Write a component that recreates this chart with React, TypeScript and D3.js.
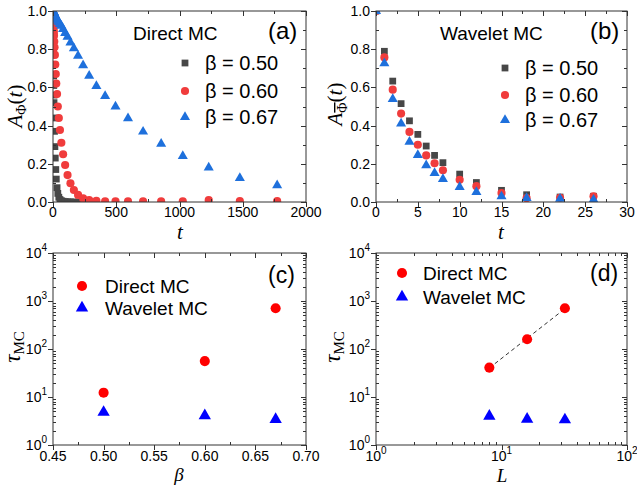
import React from 'react';
import * as d3 from 'd3';

// ---------- data ----------
// Panel (a): direct MC autocorrelation
const tDirect050 = [0, 1, 2, 3, 4, 5, 6, 7, 8, 10, 12, 15, 18, 22, 26, 32, 38, 46, 55, 66, 80, 96, 115, 138, 165, 198];
const aDirect050 = [1.0, 0.92, 0.85, 0.78, 0.72, 0.66, 0.61, 0.56, 0.52, 0.44, 0.37, 0.29, 0.23, 0.17, 0.12, 0.075, 0.045, 0.025, 0.013, 0.007, 0.004, 0.002, 0.001, 0.001, 0.0, 0.0];
const tDirect060 = [0, 1, 2, 3, 4, 5, 6, 7, 8, 10, 12, 15, 18, 22, 26, 32, 38, 46, 55, 66, 80, 96, 115, 138, 165, 198, 238, 286, 343, 412, 494, 593, 712, 855, 1026, 1231, 1477, 1772];
const aDirect060 = [1.0, 0.98, 0.965, 0.95, 0.935, 0.92, 0.9, 0.885, 0.87, 0.84, 0.81, 0.77, 0.72, 0.67, 0.62, 0.565, 0.5, 0.44, 0.377, 0.31, 0.25, 0.194, 0.141, 0.098, 0.063, 0.037, 0.019, 0.01, 0.006, 0.004, 0.004, 0.003, 0.004, 0.003, 0.004, 0.01, 0.005, 0.005];
const tDirect067 = [0, 1, 2, 3, 4, 5, 6, 7, 8, 10, 12, 15, 18, 22, 26, 32, 38, 46, 55, 66, 80, 96, 115, 138, 165, 198, 238, 286, 343, 412, 494, 593, 712, 855, 1026, 1231, 1477, 1772];
const aDirect067 = [1.0, 0.999, 0.997, 0.996, 0.994, 0.993, 0.991, 0.99, 0.989, 0.986, 0.983, 0.979, 0.975, 0.97, 0.964, 0.956, 0.948, 0.94, 0.932, 0.922, 0.905, 0.885, 0.865, 0.835, 0.805, 0.765, 0.715, 0.66, 0.607, 0.555, 0.499, 0.438, 0.368, 0.304, 0.241, 0.18, 0.125, 0.087];

// Panel (b): wavelet MC autocorrelation
const tWavelet = [0, 1, 2, 3, 4, 5, 6, 7, 8, 10, 12, 15, 18, 22, 26];
const aWavelet050 = [1.0, 0.789, 0.633, 0.515, 0.425, 0.354, 0.293, 0.244, 0.206, 0.146, 0.102, 0.061, 0.038, 0.026, 0.03];
const aWavelet060 = [1.0, 0.757, 0.588, 0.463, 0.367, 0.3, 0.244, 0.203, 0.166, 0.116, 0.083, 0.047, 0.02, 0.022, 0.03];
const aWavelet067 = [1.0, 0.726, 0.539, 0.411, 0.315, 0.246, 0.192, 0.151, 0.12, 0.078, 0.052, 0.029, 0.021, 0.016, 0.012];

// Panel (c): tau vs beta
const betaValues = [0.5, 0.6, 0.67];
const tauDirectBeta = [12.3, 56, 705];
const tauWaveletBeta = [4.8, 4.1, 3.4];

// Panel (d): tau vs L
const lValues = [8, 16, 32];
const tauDirectL = [41, 160, 705];
const tauWaveletL = [4.0, 3.45, 3.35];

// tick labels
const ticksA_x = [0, 500, 1000, 1500, 2000];
const ticksA_xMinor = [250, 750, 1250, 1750];
const ticksB_x = [0, 5, 10, 15, 20, 25, 30];
const ticksB_xMinor = [2.5, 7.5, 12.5, 17.5, 22.5, 27.5];
const ticksAB_y = [0, 0.2, 0.4, 0.6, 0.8, 1.0];
const ticksAB_yMinor = [0.1, 0.3, 0.5, 0.7, 0.9];
const ticksC_x = [0.45, 0.5, 0.55, 0.6, 0.65, 0.7];
const ticksC_xMinor = [0.475, 0.525, 0.575, 0.625, 0.675];
const logDecadesY = [0, 1, 2, 3, 4];
const logDecadesX = [0, 1, 2];
const legendBetas = ['β = 0.50', 'β = 0.60', 'β = 0.67'];
const legendMethods = ['Direct MC', 'Wavelet MC'];

// ---------- style ----------
const SANS = '"Liberation Sans", Arial, sans-serif';
const SERIF = '"Liberation Serif", "Times New Roman", serif';
const AXIS = '#333333';
const GRAY = '#474747';
const RED_A = '#f03c3c';
const BLUE_A = '#1e70dc';
const RED = '#ff0000';
const BLUE = '#0000ff';

type Sym = 'square' | 'circle' | 'triangle';
const symPath = (s: Sym, size: number) =>
  d3.symbol().type(s === 'square' ? d3.symbolSquare : s === 'circle' ? d3.symbolCircle : d3.symbolTriangle).size(size)() as string;

const SMALL: Record<Sym, number> = { square: 46, circle: 52, triangle: 44 };
const BIG: Record<Sym, number> = { square: 70, circle: 80, triangle: 66 };

// ---------- layout ----------
const COLX = [[53, 306], [376, 627]];
const ROWY = [[11, 202], [253, 445]];

const xA = d3.scaleLinear().domain([0, 2000]).range(COLX[0]);
const yA = d3.scaleLinear().domain([0, 1]).range([ROWY[0][1], ROWY[0][0]]);
const xB = d3.scaleLinear().domain([0, 30]).range(COLX[1]);
const yB = d3.scaleLinear().domain([0, 1]).range([ROWY[0][1], ROWY[0][0]]);
const xC = d3.scaleLinear().domain([0.45, 0.7]).range(COLX[0]);
const yC = d3.scaleLog().domain([1, 1e4]).range([ROWY[1][1], ROWY[1][0]]);
const xD = d3.scaleLog().domain([1, 100]).range(COLX[1]);
const yD = d3.scaleLog().domain([1, 1e4]).range([ROWY[1][1], ROWY[1][0]]);

const logMinor = (lo: number, hi: number) => {
  const out: number[] = [];
  for (let e = lo; e < hi; e++) for (let m = 2; m <= 9; m++) out.push(m * Math.pow(10, e));
  return out;
};

type AxesProps = {
  xs: any; ys: any;
  xMajor: number[]; xMinor: number[];
  yMajor: number[]; yMinor: number[];
  xLabel: (v: number) => React.ReactNode;
  yLabel: (v: number) => React.ReactNode;
  xLabelDy: number;
};

function Axes({ xs, ys, xMajor, xMinor, yMajor, yMinor, xLabel, yLabel, xLabelDy }: AxesProps) {
  const [x0, x1] = xs.range();
  const [y1, y0] = ys.range();
  const M = 5, m = 3;
  return (
    <g stroke={AXIS} strokeWidth={1}>
      <rect x={x0} y={y0} width={x1 - x0} height={y1 - y0} fill="none" />
      {xMajor.map((v, i) => {
        const x = Math.round(xs(v)) + 0.5;
        return (
          <g key={'xM' + i}>
            <line x1={x} x2={x} y1={y1} y2={y1 + M} />
            <line x1={x} x2={x} y1={y0} y2={y0 + M} />
            <text x={xs(v)} y={y1 + xLabelDy} stroke="none" fill="#000" fontFamily={SANS} fontSize={14} textAnchor="middle">{xLabel(v)}</text>
          </g>
        );
      })}
      {xMinor.map((v, i) => {
        const x = Math.round(xs(v)) + 0.5;
        return (
          <g key={'xm' + i}>
            <line x1={x} x2={x} y1={y1} y2={y1 - m} />
            <line x1={x} x2={x} y1={y0} y2={y0 + m} />
          </g>
        );
      })}
      {yMajor.map((v, i) => {
        const y = Math.round(ys(v)) + 0.5;
        return (
          <g key={'yM' + i}>
            <line x1={x0 - M} x2={x0} y1={y} y2={y} />
            <line x1={x1} x2={x1 - M} y1={y} y2={y} />
            <text x={x0 - 6} y={ys(v) + 5} stroke="none" fill="#000" fontFamily={SANS} fontSize={14} textAnchor="end">{yLabel(v)}</text>
          </g>
        );
      })}
      {yMinor.map((v, i) => {
        const y = Math.round(ys(v)) + 0.5;
        return (
          <g key={'ym' + i}>
            <line x1={x0} x2={x0 + m} y1={y} y2={y} />
            <line x1={x1} x2={x1 - m} y1={y} y2={y} />
          </g>
        );
      })}
    </g>
  );
}

const decLabel = (v: number) => {
  const e = Math.round(Math.log10(v));
  return (
    <>
      <tspan>10</tspan>
      <tspan fontSize={10} dy={-7}>{e}</tspan>
    </>
  );
};
const fmt1 = (v: number) => d3.format('.1f')(v);
const fmt2 = (v: number) => d3.format('.2f')(v);
const fmt0 = (v: number) => d3.format('d')(v);

function Points({ xs, ys, xv, yv, sym, size, color, clip }: any) {
  return (
    <g clipPath={clip ? `url(#${clip})` : undefined}>
      {xv.map((x: number, i: number) => (
        <path key={i} d={symPath(sym, size)} transform={`translate(${xs(x)},${ys(yv[i])})`} fill={color} />
      ))}
    </g>
  );
}

function LegendItem({ x, y, sym, size, color, label, tx, fs }: any) {
  return (
    <g>
      <path d={symPath(sym, size)} transform={`translate(${x},${y})`} fill={color} />
      <text x={tx} y={y + fs * 0.36} fontFamily={SANS} fontSize={fs} fill="#000">{label}</text>
    </g>
  );
}

export default function App() {
  // fit line for panel (d)
  const lx = lValues.map((v) => Math.log10(v));
  const ly = tauDirectL.map((v) => Math.log10(v));
  const mx = d3.mean(lx) as number, my = d3.mean(ly) as number;
  const slope = d3.sum(lx.map((v, i) => (v - mx) * (ly[i] - my))) / d3.sum(lx.map((v) => (v - mx) ** 2));
  const fitAt = (L: number) => Math.pow(10, my + slope * (Math.log10(L) - mx));
  const Lends = [lValues[0], lValues[lValues.length - 1]];

  const yDecades = logDecadesY.map((e) => Math.pow(10, e));
  const xDecades = logDecadesX.map((e) => Math.pow(10, e));
  const syms: Sym[] = ['square', 'circle', 'triangle'];

  return (
    <svg width={637} height={487} style={{ position: 'absolute', left: 0, top: 0, background: '#fff' }}>
      <defs>
        <clipPath id="clipA"><rect x={COLX[0][0]} y={ROWY[0][0]} width={COLX[0][1] - COLX[0][0]} height={ROWY[0][1] - ROWY[0][0]} /></clipPath>
        <clipPath id="clipB"><rect x={COLX[1][0]} y={ROWY[0][0]} width={COLX[1][1] - COLX[1][0]} height={ROWY[0][1] - ROWY[0][0]} /></clipPath>
      </defs>
      <rect x={0} y={0} width={637} height={487} fill="#fff" />

      {/* ---------- Panel (a) ---------- */}
      <Points xs={xA} ys={yA} xv={tDirect050} yv={aDirect050} sym="square" size={SMALL.square} color={GRAY} clip="clipA" />
      <Points xs={xA} ys={yA} xv={tDirect060} yv={aDirect060} sym="circle" size={SMALL.circle} color={RED_A} clip="clipA" />
      <Points xs={xA} ys={yA} xv={tDirect067} yv={aDirect067} sym="triangle" size={SMALL.triangle} color={BLUE_A} clip="clipA" />
      <Axes xs={xA} ys={yA} xMajor={ticksA_x} xMinor={ticksA_xMinor} yMajor={ticksAB_y} yMinor={ticksAB_yMinor}
        xLabel={fmt0} yLabel={fmt1} xLabelDy={15} />
      <text x={133} y={40} fontFamily={SANS} fontSize={19}>Direct MC</text>
      <text x={268} y={39} fontFamily={SANS} fontSize={24}>(a)</text>
      {legendBetas.map((lab, i) => (
        <LegendItem key={i} x={185} y={[63, 91, 117][i]} sym={syms[i]} size={SMALL[syms[i]]}
          color={[GRAY, RED_A, BLUE_A][i]} label={lab} tx={205} fs={20} />
      ))}
      <text transform="translate(22,106) rotate(-90)" textAnchor="middle" fontFamily={SERIF} fontSize={21}>
        <tspan fontStyle="italic">A</tspan><tspan fontSize={14} dy={4}>Φ</tspan><tspan dy={-4}>(</tspan><tspan fontStyle="italic">t</tspan><tspan>)</tspan>
      </text>
      <text x={180} y={239} textAnchor="middle" fontFamily={SERIF} fontStyle="italic" fontSize={21}>t</text>

      {/* ---------- Panel (b) ---------- */}
      <Points xs={xB} ys={yB} xv={tWavelet} yv={aWavelet050} sym="square" size={SMALL.square} color={GRAY} clip="clipB" />
      <Points xs={xB} ys={yB} xv={tWavelet} yv={aWavelet060} sym="circle" size={SMALL.circle} color={RED_A} clip="clipB" />
      <Points xs={xB} ys={yB} xv={tWavelet} yv={aWavelet067} sym="triangle" size={SMALL.triangle} color={BLUE_A} clip="clipB" />
      <Axes xs={xB} ys={yB} xMajor={ticksB_x} xMinor={ticksB_xMinor} yMajor={ticksAB_y} yMinor={ticksAB_yMinor}
        xLabel={fmt0} yLabel={fmt1} xLabelDy={15} />
      <text x={440} y={40} fontFamily={SANS} fontSize={19}>Wavelet MC</text>
      <text x={590} y={39} fontFamily={SANS} fontSize={24}>(b)</text>
      {legendBetas.map((lab, i) => (
        <LegendItem key={i} x={505} y={[68, 95, 120][i]} sym={syms[i]} size={SMALL[syms[i]]}
          color={[GRAY, RED_A, BLUE_A][i]} label={lab} tx={525} fs={20} />
      ))}
      <text transform="translate(342,104) rotate(-90)" textAnchor="middle" fontFamily={SERIF} fontSize={21}>
        <tspan fontStyle="italic">A</tspan><tspan fontSize={14} dy={5} style={{ textDecoration: 'overline' }}>Φ</tspan><tspan dy={-5}>(</tspan><tspan fontStyle="italic">t</tspan><tspan>)</tspan>
      </text>
      <text x={501} y={239} textAnchor="middle" fontFamily={SERIF} fontStyle="italic" fontSize={21}>t</text>

      {/* ---------- Panel (c) ---------- */}
      <Points xs={xC} ys={yC} xv={betaValues} yv={tauDirectBeta} sym="circle" size={BIG.circle} color={RED} />
      <Points xs={xC} ys={yC} xv={betaValues} yv={tauWaveletBeta} sym="triangle" size={BIG.triangle} color={BLUE} />
      <Axes xs={xC} ys={yC} xMajor={ticksC_x} xMinor={ticksC_xMinor} yMajor={yDecades} yMinor={logMinor(0, 4)}
        xLabel={fmt2} yLabel={decLabel} xLabelDy={16} />
      {legendMethods.map((lab, i) => (
        <LegendItem key={i} x={82} y={[286, 308][i]} sym={i === 0 ? 'circle' : 'triangle'} size={i === 0 ? BIG.circle : BIG.triangle}
          color={i === 0 ? RED : BLUE} label={lab} tx={105} fs={19} />
      ))}
      <text x={268} y={283} fontFamily={SANS} fontSize={23}>(c)</text>
      <text transform="translate(20,347) rotate(-90)" textAnchor="middle" fontFamily={SERIF} fontSize={23}>
        <tspan fontStyle="italic">τ</tspan><tspan fontSize={15} dy={4}>MC</tspan>
      </text>
      <text x={179} y={481} textAnchor="middle" fontFamily={SERIF} fontStyle="italic" fontSize={19}>β</text>

      {/* ---------- Panel (d) ---------- */}
      <line x1={xD(Lends[0])} y1={yD(fitAt(Lends[0]))} x2={xD(Lends[1])} y2={yD(fitAt(Lends[1]))}
        stroke="#333" strokeWidth={1} strokeDasharray="4,3" />
      <Points xs={xD} ys={yD} xv={lValues} yv={tauDirectL} sym="circle" size={BIG.circle} color={RED} />
      <Points xs={xD} ys={yD} xv={lValues} yv={tauWaveletL} sym="triangle" size={BIG.triangle} color={BLUE} />
      <Axes xs={xD} ys={yD} xMajor={xDecades} xMinor={logMinor(0, 2)} yMajor={yDecades} yMinor={logMinor(0, 4)}
        xLabel={decLabel} yLabel={decLabel} xLabelDy={16} />
      {legendMethods.map((lab, i) => (
        <LegendItem key={i} x={402} y={[273, 297][i]} sym={i === 0 ? 'circle' : 'triangle'} size={i === 0 ? BIG.circle : BIG.triangle}
          color={i === 0 ? RED : BLUE} label={lab} tx={423} fs={19} />
      ))}
      <text x={590} y={281} fontFamily={SANS} fontSize={23}>(d)</text>
      <text transform="translate(340,347) rotate(-90)" textAnchor="middle" fontFamily={SERIF} fontSize={23}>
        <tspan fontStyle="italic">τ</tspan><tspan fontSize={15} dy={4}>MC</tspan>
      </text>
      <text x={502} y={482} textAnchor="middle" fontFamily={SERIF} fontStyle="italic" fontSize={19}>L</text>
    </svg>
  );
}
